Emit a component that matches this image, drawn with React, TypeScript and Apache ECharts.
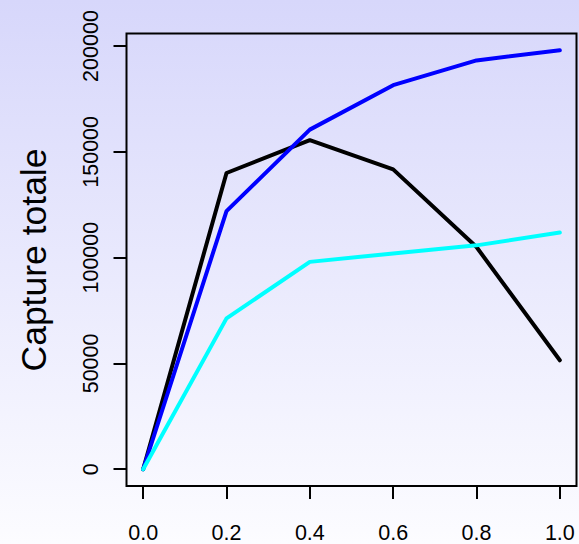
import React, { useEffect, useRef } from "react";
import * as echarts from "echarts";

const xValues = [0, 0.2, 0.4, 0.6, 0.8, 1.0];
const blackSeries = [0, 140000, 155500, 141700, 105000, 51500];
const blueSeries = [0, 122000, 160500, 181500, 193200, 198000];
const cyanSeries = [0, 71300, 98000, 102000, 105800, 111900];
const xTicks = [0, 0.2, 0.4, 0.6, 0.8, 1.0];
const yTicks = [0, 50000, 100000, 150000, 200000];
const yTitle = "Capture totale";

const FONT = "'Liberation Sans', Arial, Helvetica, sans-serif";

export default function App() {
  const ref = useRef<HTMLDivElement>(null);
  useEffect(() => {
    if (!ref.current) return;
    const chart = echarts.init(ref.current, null, { renderer: "svg" });
    const mk = (vals: number[], color: string) => ({
      type: "line",
      data: xValues.map((x, i) => [x, vals[i]]),
      showSymbol: false,
      symbol: "none",
      lineStyle: { color, width: 4, cap: "round", join: "round" },
      z: 3,
    });
    chart.setOption({
      animation: false,
      backgroundColor: {
        type: "linear",
        x: 0,
        y: 0,
        x2: 0,
        y2: 1,
        colorStops: [
          { offset: 0, color: "#d7d7fb" },
          { offset: 1, color: "#fcfcff" },
        ],
      },
      grid: {
        left: 126.5,
        top: 33.5,
        width: 450,
        height: 453.5,
        show: true,
        borderColor: "#000",
        borderWidth: 2,
        backgroundColor: "transparent",
        containLabel: false,
      },
      xAxis: {
        type: "value",
        min: -0.04,
        max: 1.04,
        splitLine: { show: false },
        axisLine: { show: false, onZero: false },
        axisTick: {
          show: true,
          customValues: xTicks,
          length: 13,
          inside: false,
          lineStyle: { color: "#000", width: 2 },
        },
        axisLabel: {
          customValues: xTicks,
          formatter: (v: number) => v.toFixed(1),
          fontSize: 21.5,
          fontFamily: FONT,
          color: "#000",
          margin: 36,
        },
      },
      yAxis: {
        type: "value",
        min: -7920,
        max: 205920,
        splitLine: { show: false },
        axisLine: { show: false, onZero: false },
        axisTick: {
          show: true,
          customValues: yTicks,
          length: 13,
          inside: false,
          lineStyle: { color: "#000", width: 2 },
        },
        axisLabel: {
          customValues: yTicks,
          formatter: (v: number) => String(v),
          rotate: 90,
          fontSize: 21.5,
          fontFamily: FONT,
          color: "#000",
          margin: 25,
        },
      },
      graphic: [
        {
          type: "text",
          x: 34,
          y: 260,
          rotation: Math.PI / 2,
          style: {
            text: yTitle,
            fontSize: 35.5,
            fontFamily: FONT,
            fill: "#000",
            textAlign: "center",
            textVerticalAlign: "middle",
          },
        },
      ],
      series: [mk(blackSeries, "#000000"), mk(blueSeries, "#0000ff"), mk(cyanSeries, "#00ffff")],
    });
    return () => chart.dispose();
  }, []);
  return (
    <div
      ref={ref}
      style={{ position: "fixed", left: 0, top: 0, width: 579, height: 544 }}
    />
  );
}
